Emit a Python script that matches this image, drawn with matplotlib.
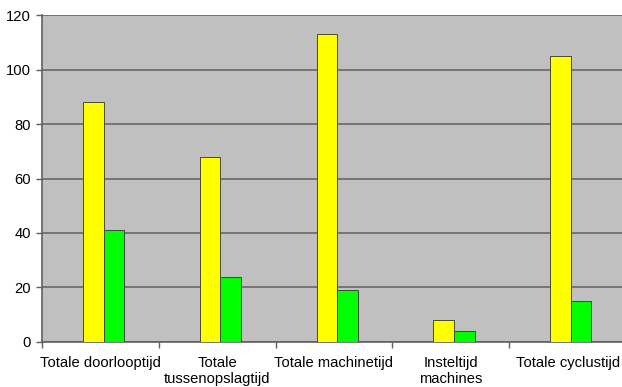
import numpy as np
import matplotlib
matplotlib.use("Agg")
import matplotlib.pyplot as plt

# categories and the two series
categories = ["Totale doorlooptijd", "Totale\ntussenopslagtijd", "Totale machinetijd",
              "Insteltijd\nmachines", "Totale cyclustijd"]
before = [88, 68, 113, 8, 105]
after = [41, 24, 19, 4, 15]
yticks = [0, 20, 40, 60, 80, 100, 120]

plt.rcParams['font.family'] = ['Liberation Sans', 'DejaVu Sans']

fig = plt.figure(figsize=(6.22, 3.87), dpi=100)
fig.patch.set_facecolor('white')
ax = fig.add_axes([0.0675, 0.1163, 0.9389, 0.8449])
ax.set_facecolor('#c0c0c0')

x = np.arange(len(categories))
w = 0.176
ax.bar(x + 0.352, before, w, align='edge', color='#ffff00',
       edgecolor='#4a4a30', linewidth=0.7, zorder=3)
ax.bar(x + 0.352 + w, after, w, align='edge', color='#00ff00',
       edgecolor='#3a4a3a', linewidth=0.7, zorder=3)

ax.set_xlim(0, len(categories))
ax.set_ylim(0, 120)
ax.set_yticks(yticks)
ax.yaxis.grid(True, color='#747474', linewidth=1.4, zorder=1)
ax.set_axisbelow(True)

# boundary ticks between categories, labels centred below each group
ax.set_xticks(np.arange(len(categories) + 1))
ax.set_xticklabels([])
ax.set_xticks(x + 0.5, minor=True)
ax.set_xticklabels(categories, minor=True, fontsize=10.6, linespacing=1.15)
ax.tick_params(axis='x', which='minor', length=0, pad=10)
ax.tick_params(axis='x', which='major', length=4, color='#606060', width=1)
ax.tick_params(axis='y', length=4, color='#606060', width=1, labelsize=10.6, pad=4)

for side in ['top', 'right']:
    ax.spines[side].set_visible(False)
ax.spines['left'].set_color('#606060')
ax.spines['bottom'].set_color('#606060')
ax.spines['left'].set_linewidth(1.2)
ax.spines['bottom'].set_linewidth(1.2)

fig.savefig('out.png', dpi=100, facecolor=fig.get_facecolor())
